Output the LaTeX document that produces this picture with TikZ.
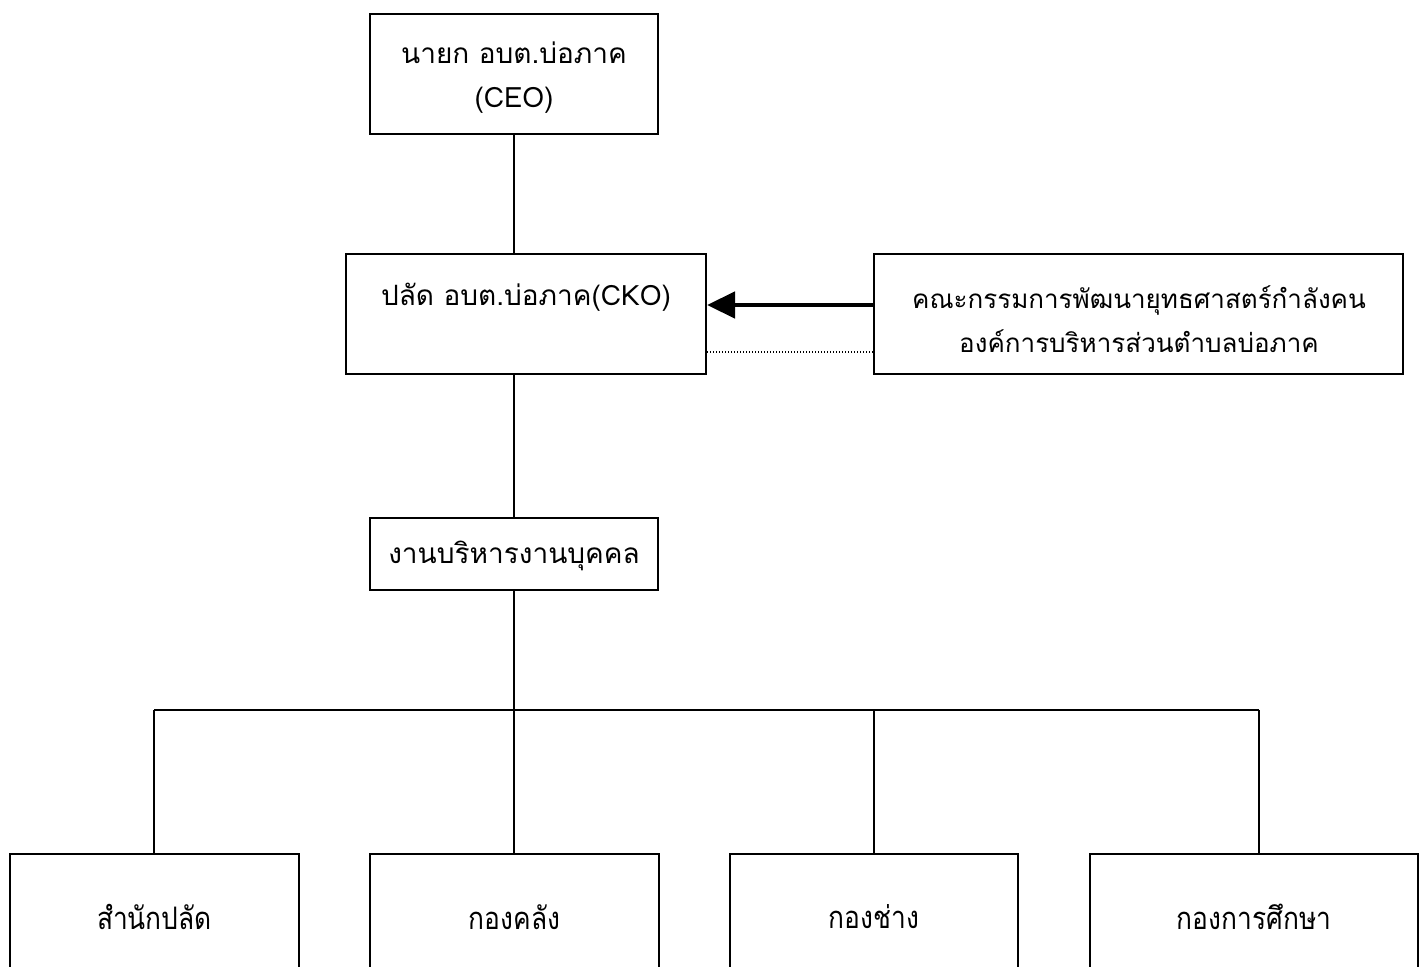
\documentclass[tikz,border=0pt]{standalone}
\usepackage{fontspec}
\setmainfont{Liberation Sans}
\newfontfamily\thai[Script=Thai]{Loma}
\newfontfamily\thainarrow[Script=Thai,FakeStretch=0.85]{Loma}
\usetikzlibrary{arrows.meta}
\tikzset{
  box/.style={draw=black, line width=2pt, rectangle, inner sep=0pt},
  lbl/.style={font=\thai\fontsize{28}{44}\selectfont, align=center, inner sep=0pt},
  lblc/.style={font=\thai\fontsize{26}{44}\selectfont, align=center, inner sep=0pt},
  lblb/.style={font=\thainarrow\fontsize{31}{40}\selectfont, align=center, inner sep=0pt},
  conn/.style={draw=black, line width=1.6pt},
  bigarrow/.style={draw=black, line width=4.5pt, -{Triangle[length=28pt,width=26pt]}},
  dotline/.style={draw=black, line width=1.4pt, dash pattern=on 1.4pt off 1.6pt}
}
\begin{document}
\begin{tikzpicture}[x=1pt,y=-1pt]
\useasboundingbox (0,0) rectangle (1426,966);
\fill[white] (0,0) rectangle (1426,966);
\clip (0,0) rectangle (1426,966);
% boxes
\node[box, minimum width=288pt, minimum height=120pt] (ceo) at (514,74) {};
\node[lbl] (ceot) at (514,78) {นายก อบต.บ่อภาค\\(CEO)};
\node[box, minimum width=360pt, minimum height=120pt] (cko) at (526,314) {};
\node[lbl] (ckot) at (526,297) {ปลัด อบต.บ่อภาค(CKO)};
\node[box, minimum width=529pt, minimum height=120pt] (com) at (1138.5,314) {};
\node[lblc] (comt) at (1139,319) {คณะกรรมการพัฒนายุทธศาสตร์กำลังคน\\องค์การบริหารส่วนตำบลบ่อภาค};
\node[box, minimum width=288pt, minimum height=72pt] (hr) at (514,554) {};
\node[lbl] (hrt) at (514,556) {งานบริหารงานบุคคล};
\node[box, minimum width=289pt, minimum height=180pt] (b1) at (154.5,944) {};
\node[box, minimum width=289pt, minimum height=180pt] (b2) at (514.5,944) {};
\node[box, minimum width=288pt, minimum height=180pt] (b3) at (874,944) {};
\node[box, minimum width=328pt, minimum height=180pt] (b4) at (1254,944) {};
\node[lblb] (b1t) at (154.5,917) {สำนักปลัด};
\node[lblb] (b2t) at (514.5,917) {กองคลัง};
\node[lblb] (b3t) at (874,917) {กองช่าง};
\node[lblb] (b4t) at (1254,917) {กองการศึกษา};
% connectors
\coordinate (bus) at (514,710);
\coordinate (busl) at (154,710);
\coordinate (busr) at (1259,710);
\coordinate (bus3) at (874,710);
\coordinate (ya) at (0,305);
\coordinate (yd) at (0,352);
\draw[conn] (ceo.south) -- (ceo.south |- cko.north);
\draw[conn] (ceo.south |- cko.south) -- (ceo.south |- hr.north);
\draw[conn] (hr.south) -- (bus);
\draw[conn] (busl) -- (busr);
\draw[conn] (busl) -- (busl |- b1.north);
\draw[conn] (bus) -- (bus |- b2.north);
\draw[conn] (bus3) -- (bus3 |- b3.north);
\draw[conn] (busr) -- (busr |- b4.north);
\draw[bigarrow] (com.west |- ya) -- (cko.east |- ya);
\draw[dotline] (cko.east |- yd) -- (com.west |- yd);
\end{tikzpicture}
\end{document}
